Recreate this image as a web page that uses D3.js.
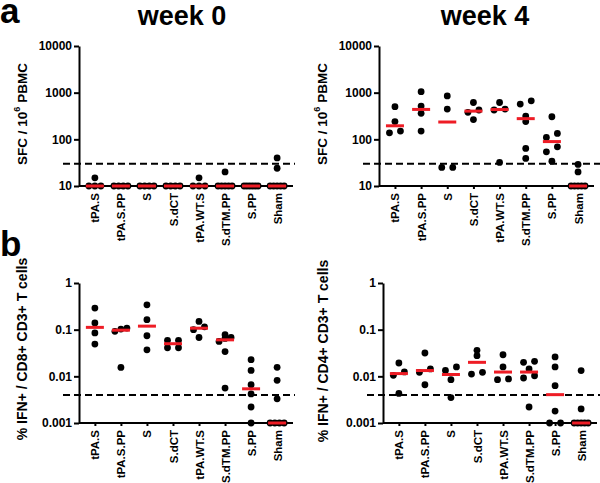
<!DOCTYPE html>
<html><head><meta charset="utf-8">
<script src="https://cdn.jsdelivr.net/npm/d3@7"></script>
<style>
body{margin:0;background:#fff;}
text{font-family:Arial,"Liberation Sans",sans-serif;font-weight:bold;fill:#000;}
</style></head>
<body><svg id="c" width="600" height="483"></svg>
<script>
const categories = ["tPA.S","tPA.S.PP","S","S.dCT","tPA.WT.S","S.dTM.PP","S.PP","Sham"];
const week0SFC = [
  [10,10,10,15],[10,10,10,10],[10,10,10,10],[10,10,10,10],
  [10,10,10,15],[10,10,10,10,10,20],[10,10,10,10,10,10],[10,10,10,10,10,24,40]
];
const week4SFC = [
  [138,150,240,500],[150,360,515,1050],[25,25,445,850],[265,380,425,615],
  [32,425,445,615],[39,64,240,315,570,670],[34,54,69,110,134,305],[10,10,10,10,10,20,29]
];
const cd8IFN = [
  [0.049,0.085,0.139,0.29],[0.0155,0.092,0.103,0.108],[0.037,0.074,0.164,0.34],
  [0.041,0.041,0.059,0.059],[0.068,0.1,0.115,0.15],[0.0056,0.034,0.056,0.065,0.068,0.078],
  [0.001,0.0022,0.0042,0.0066,0.0134,0.0228],[0.001,0.001,0.001,0.001,0.0033,0.0082,0.0156]
];
const cd4IFN = [
  [0.0043,0.0105,0.0124,0.0193],[0.0066,0.0122,0.0144,0.0316],[0.0035,0.0085,0.0134,0.0159],
  [0.0112,0.0122,0.0277,0.036],[0.0085,0.0088,0.0159,0.029],[0.0022,0.0092,0.0103,0.0144,0.02,0.021],
  [0.001,0.001,0.0018,0.0063,0.0159,0.026],[0.001,0.001,0.001,0.001,0.001,0.002,0.0133]
];
const sfcTicks = [10,100,1000,10000];
const pctTicks = [0.001,0.01,0.1,1];
const sfcCutoff = 30;
const pctCutoff = 0.004;

const svg = d3.select("#c");

const panels = [
  {data:week0SFC, ticks:sfcTicks, cutoff:sfcCutoff, ax:79, x1:293, y0:186, y1:46, dashX:[63,295], titleX:22, titleY:114, title:"sfc", fs:13.5},
  {data:week4SFC, ticks:sfcTicks, cutoff:sfcCutoff, ax:379, x1:594, y0:186, y1:46, dashX:[363,600], titleX:322, titleY:114, title:"sfc", fs:13.5},
  {data:cd8IFN, ticks:pctTicks, cutoff:pctCutoff, ax:79, x1:293, y0:423, y1:283, dashX:[63,295], titleX:22, titleY:349, title:"% IFN+ / CD8+ CD3+ T cells", fs:14},
  {data:cd4IFN, ticks:pctTicks, cutoff:pctCutoff, ax:383, x1:597, y0:423, y1:283, dashX:[367,600], titleX:323, titleY:351, title:"% IFN+ / CD4+ CD3+ T cells", fs:14}
];

function layoutRow(values, y) {
  const pts = values.map(v => ({v, y: y(v), dx: 0})).sort((a,b) => b.y - a.y);
  const rows = [];
  pts.forEach(p => {
    const r = rows[rows.length-1];
    if (r && Math.abs(p.y - r[0].y) < 5) r.push(p); else rows.push([p]);
  });
  rows.forEach(r => {
    const n = r.length;
    if (n === 2) { r[0].dx = -5.5; r[1].dx = 5.5; }
    else if (n > 2) {
      const s = Math.min(6, 14/(n-1));
      r.forEach((p,i) => p.dx = (i - (n-1)/2) * s);
    }
  });
  return pts;
}

panels.forEach(P => {
  const g = svg.append("g");
  const y = d3.scaleLog().domain([P.ticks[0], P.ticks[P.ticks.length-1]]).range([P.y0, P.y1]);
  const x = d3.scalePoint().domain(categories).range([P.ax, P.x1]).padding(0.61);

  g.append("line").attr("x1",P.dashX[0]).attr("x2",P.dashX[1])
    .attr("y1",y(P.cutoff)).attr("y2",y(P.cutoff))
    .attr("stroke","#000").attr("stroke-width",2).attr("stroke-dasharray","7,4");

  const ya = g.append("g").attr("transform",`translate(${P.ax},0)`)
    .call(d3.axisLeft(y).tickValues(P.ticks).tickFormat(d => String(d)).tickSize(5).tickSizeOuter(0).tickPadding(2));
  ya.selectAll("path,line").attr("stroke","#000").attr("stroke-width",2);
  ya.selectAll("text").style("font-size","12px").style("font-family","Arial, 'Liberation Sans', sans-serif").style("font-weight","bold");

  const xa = g.append("g").attr("transform",`translate(0,${P.y0})`)
    .call(d3.axisBottom(x).tickSize(3).tickSizeOuter(0));
  xa.select("path").attr("d",`M${P.ax},0H${P.x1}`);
  xa.selectAll("path,line").attr("stroke","#000").attr("stroke-width",2);
  xa.selectAll("text").attr("transform","rotate(-90)").attr("x",-7).attr("y",0).attr("dy","0.35em")
    .attr("text-anchor","end").style("font-size","11.5px")
    .style("font-family","Arial, 'Liberation Sans', sans-serif").style("font-weight","bold");

  P.data.forEach((vals,i) => {
    const cx = x(categories[i]);
    const pts = layoutRow(vals, y);
    g.selectAll(null).data(pts).enter().append("circle")
      .attr("cx", d => cx + d.dx).attr("cy", d => d.y).attr("r",3.4).attr("fill","#000");
    const m = d3.median(vals);
    g.append("line").attr("x1",cx-9).attr("x2",cx+9).attr("y1",y(m)).attr("y2",y(m))
      .attr("stroke","#ee1c25").attr("stroke-width",3);
  });

  const t = svg.append("text").attr("transform",`translate(${P.titleX},${P.titleY}) rotate(-90)`)
    .attr("text-anchor","middle").attr("dominant-baseline","central").style("font-size",P.fs+"px");
  if (P.title === "sfc") {
    t.append("tspan").text("SFC / 10");
    t.append("tspan").text("6").attr("font-size","9px").attr("dy","-5");
    t.append("tspan").text(" PBMC").attr("dy","5");
  } else t.text(P.title);
});

svg.append("text").attr("x",182).attr("y",25).attr("text-anchor","middle").style("font-size","27px").text("week 0");
svg.append("text").attr("x",485).attr("y",25).attr("text-anchor","middle").style("font-size","27px").text("week 4");
svg.append("text").attr("x",0).attr("y",23).style("font-size","35px").text("a");
svg.append("text").attr("x",0).attr("y",256).style("font-size","35px").text("b");
</script></body></html>
